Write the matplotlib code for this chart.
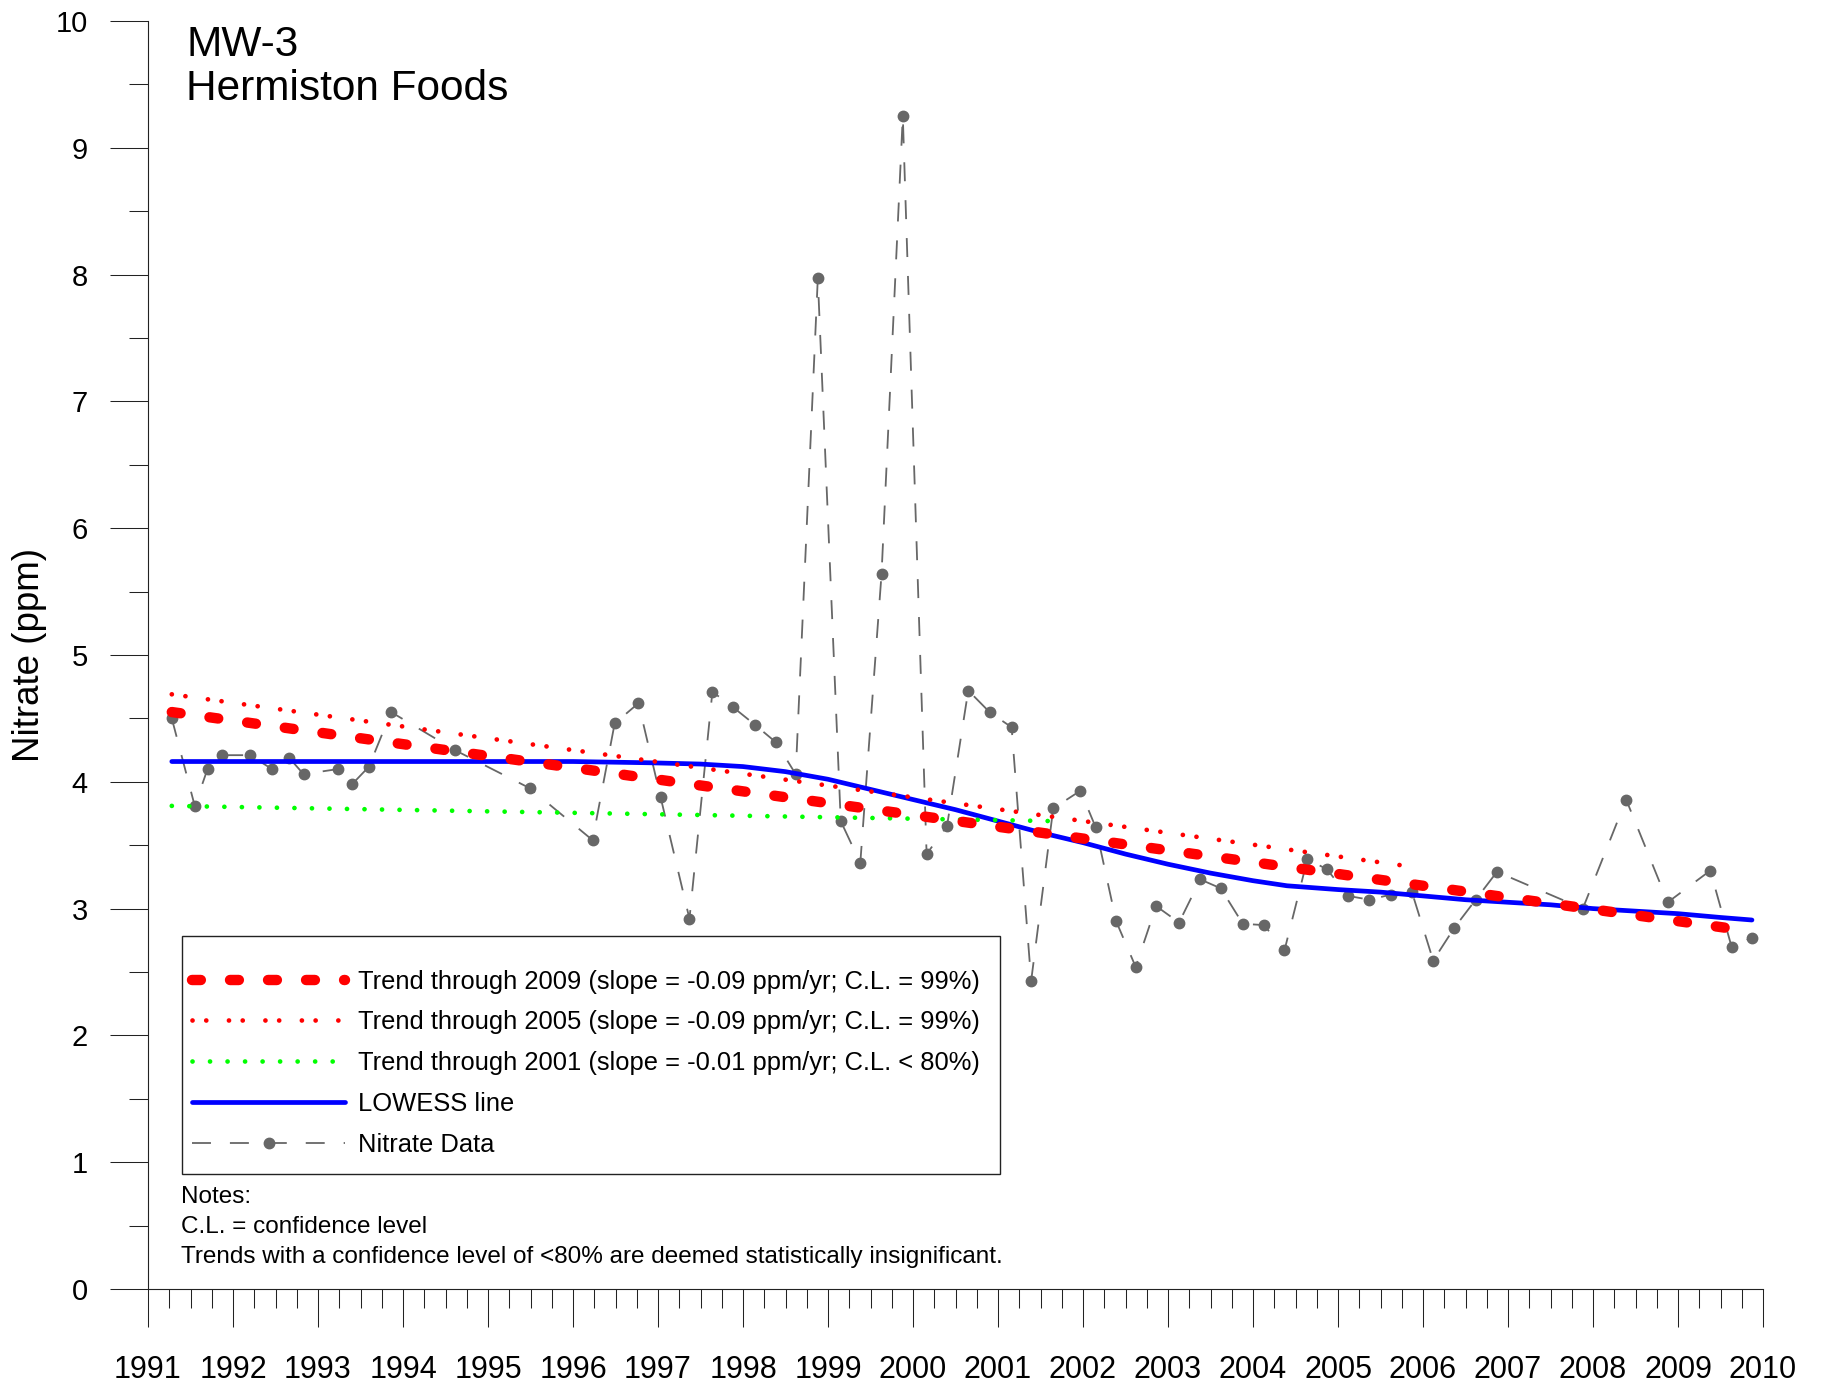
import matplotlib
matplotlib.use("Agg")
import matplotlib.pyplot as plt
from matplotlib.patches import Rectangle
from matplotlib.ticker import FixedLocator, MultipleLocator

plt.rcParams["font.family"] = ["Liberation Sans", "DejaVu Sans"]

# nitrate samples (decimal year, ppm)
years = [1991.28, 1991.55, 1991.70, 1991.87, 1992.20, 1992.46, 1992.66, 1992.83,
         1993.23, 1993.40, 1993.60, 1993.86, 1994.61, 1995.49, 1996.23, 1996.49,
         1996.77, 1997.03, 1997.37, 1997.64, 1997.88, 1998.14, 1998.39, 1998.62,
         1998.88, 1999.15, 1999.38, 1999.63, 1999.88, 2000.16, 2000.40, 2000.65,
         2000.90, 2001.16, 2001.39, 2001.65, 2001.97, 2002.15, 2002.39, 2002.62,
         2002.86, 2003.13, 2003.38, 2003.62, 2003.88, 2004.13, 2004.37, 2004.64,
         2004.87, 2005.12, 2005.37, 2005.62, 2005.87, 2006.12, 2006.37, 2006.62,
         2006.87, 2007.88, 2008.39, 2008.88, 2009.38, 2009.63, 2009.87]
nitrate = [4.50, 3.81, 4.10, 4.21, 4.21, 4.10, 4.19, 4.06,
           4.10, 3.98, 4.12, 4.55, 4.25, 3.95, 3.54, 4.46,
           4.62, 3.88, 2.92, 4.71, 4.59, 4.45, 4.31, 4.06,
           7.97, 3.69, 3.36, 5.64, 9.25, 3.43, 3.65, 4.72,
           4.55, 4.43, 2.43, 3.79, 3.93, 3.64, 2.90, 2.54,
           3.02, 2.89, 3.23, 3.16, 2.88, 2.87, 2.67, 3.39,
           3.31, 3.10, 3.07, 3.11, 3.13, 2.59, 2.85, 3.07,
           3.29, 3.00, 3.86, 3.05, 3.30, 2.70, 2.77]

# LOWESS curve
lowess_x = [1991.28, 1992.0, 1993.0, 1994.0, 1995.0, 1996.0, 1996.9, 1997.5,
            1998.0, 1998.5, 1999.0, 1999.5, 2000.0, 2000.5, 2001.0, 2001.5,
            2002.0, 2002.5, 2003.0, 2003.5, 2004.0, 2004.4, 2005.0, 2005.5,
            2006.0, 2006.5, 2007.0, 2007.5, 2008.0, 2008.5, 2009.0, 2009.5, 2009.87]
lowess_y = [4.16, 4.16, 4.16, 4.16, 4.16, 4.16, 4.15, 4.14,
            4.12, 4.08, 4.02, 3.94, 3.86, 3.78, 3.69, 3.60,
            3.52, 3.43, 3.35, 3.28, 3.22, 3.18, 3.15, 3.13,
            3.10, 3.07, 3.05, 3.03, 3.00, 2.98, 2.96, 2.93, 2.91]

# trend lines (end points)
trend09_x = [1991.28, 2009.87]
trend09_y = [4.55, 2.82]
trend05_x = [1991.28, 2005.87]
trend05_y = [4.69, 3.33]
trend01_x = [1991.28, 2001.65]
trend01_y = [3.81, 3.69]

year_ticks = list(range(1991, 2011))
year_labels = [str(y) for y in year_ticks]

legend_labels = [
    "Trend through 2009 (slope = -0.09 ppm/yr; C.L. = 99%)",
    "Trend through 2005 (slope = -0.09 ppm/yr; C.L. = 99%)",
    "Trend through 2001 (slope = -0.01 ppm/yr; C.L. < 80%)",
    "LOWESS line",
    "Nitrate Data",
]
notes = [
    "Notes:",
    "C.L. = confidence level",
    "Trends with a confidence level of <80% are deemed statistically insignificant.",
]

W, H = 1823, 1382
GRAY = "#676767"

fig = plt.figure(figsize=(W / 100, H / 100), dpi=100)
ax = fig.add_axes([148 / W, 1 - 1289 / H, 1615 / W, 1268 / H])

data_ln, = ax.plot(years, nitrate, color=GRAY, lw=1.3, dashes=(10.5, 10.5),
                   marker="o", ms=7.5, mfc=GRAY, mec=GRAY, zorder=2)
low_ln, = ax.plot(lowess_x, lowess_y, color="#0000ff", lw=3.4,
                  solid_capstyle="round", zorder=3)
t01_ln, = ax.plot(trend01_x, trend01_y, color="#00ff00", lw=3.4,
                  dashes=(0.01, 3.7), dash_capstyle="round", zorder=4)
t05_ln, = ax.plot(trend05_x, trend05_y, color="#ff0000", lw=3.4,
                  dashes=(0.01, 2.9, 0.01, 4.8), dash_capstyle="round", zorder=5)
t09_ln, = ax.plot(trend09_x, trend09_y, color="#ff0000", lw=7.5,
                  dashes=(0.85, 2.8), dash_capstyle="round", zorder=6)

ax.set_xlim(1991, 2010)
ax.set_ylim(0, 10)
for side in ("top", "right"):
    ax.spines[side].set_visible(False)
for side in ("left", "bottom"):
    ax.spines[side].set_linewidth(0.8)
    ax.spines[side].set_color("#222222")

ax.xaxis.set_major_locator(FixedLocator(year_ticks))
ax.set_xticklabels(year_labels)
ax.xaxis.set_minor_locator(MultipleLocator(0.25))
ax.yaxis.set_major_locator(MultipleLocator(1))
ax.yaxis.set_minor_locator(MultipleLocator(0.5))
ax.tick_params(which="major", direction="out", length=27.4, width=0.75, color="#222222")
ax.tick_params(which="minor", direction="out", length=13.7, width=0.75, color="#222222")
ax.tick_params(axis="x", which="major", labelsize=22, pad=20)
ax.tick_params(axis="y", which="major", labelsize=21, pad=15.8)

ax.set_ylabel("Nitrate (ppm)", fontsize=26.5)
ax.yaxis.set_label_coords((47 - 148) / 1615, 0.5)

ax.text(38 / 1615, (1289 - 56) / 1268, "MW-3", transform=ax.transAxes,
        fontsize=30.5, va="baseline")
ax.text(38 / 1615, (1289 - 100) / 1268, "Hermiston Foods", transform=ax.transAxes,
        fontsize=30.5, va="baseline")

# legend box
fig.add_artist(Rectangle((182 / W, 1 - 1174 / H), 818 / W, 238 / H,
                         transform=fig.transFigure, facecolor="white",
                         edgecolor="#222222", lw=1.0, zorder=1))
fig.legend([t09_ln, t05_ln, t01_ln, low_ln, data_ln], legend_labels,
           loc="upper left", bbox_to_anchor=(192 / W, 1 - 969.5 / H),
           frameon=False, borderpad=0, borderaxespad=0, handlelength=6.0,
           handletextpad=0.5, labelspacing=0.66, fontsize=18.4)

for i, line in enumerate(notes):
    fig.text(181 / W, 1 - (1203 + 30 * i) / H, line, fontsize=17.5, va="baseline")

fig.savefig("out.png", dpi=100)
